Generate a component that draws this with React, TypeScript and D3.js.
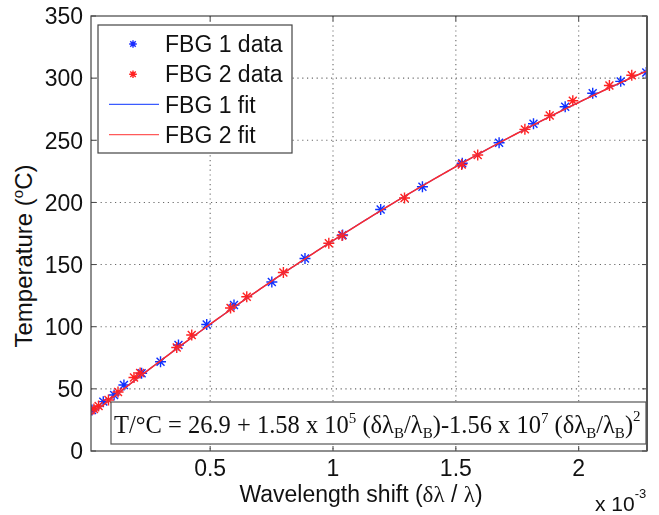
import React from "react";
import * as d3 from "d3";

// Wavelength shift (units of 1e-3) and temperature (°C) for each grating
const fbg1Shift = [0.019, 0.065, 0.109, 0.149, 0.221, 0.298, 0.371, 0.486, 0.597, 0.751, 0.886, 1.039, 1.194, 1.364, 1.526, 1.676, 1.816, 1.945, 2.057, 2.171, 2.275];
const fbg1Temp = [33.0, 39.7, 45.1, 53.1, 62.5, 71.8, 85.3, 101.8, 117.5, 136.0, 154.9, 173.8, 194.3, 212.6, 231.5, 248.0, 263.3, 277.0, 287.8, 297.4, 304.5];
const fbg2Shift = [0.027, 0.046, 0.086, 0.125, 0.19, 0.215, 0.364, 0.425, 0.583, 0.649, 0.798, 0.983, 1.037, 1.291, 1.524, 1.589, 1.781, 1.882, 1.976, 2.125, 2.216];
const fbg2Temp = [33.8, 36.2, 41.0, 47.5, 59.1, 62.8, 83.3, 93.3, 115.1, 124.1, 143.6, 167.1, 173.4, 203.6, 230.5, 238.2, 258.8, 269.9, 281.8, 294.1, 302.3];

// Quadratic calibration fit: T = c0 + c1*s + c2*s^2 (s = δλB/λB)
const fitC0 = 26.9;
const fitC1 = 1.58e5;
const fitC2 = -1.56e7;

const xTicks = [0.5, 1, 1.5, 2];
const yTicks = [0, 50, 100, 150, 200, 250, 300, 350];
const xDomain = [0.015, 2.278];
const yDomain = [0, 350];

const legendItems = [
  { label: "FBG 1 data", kind: "star", color: "#1a2cff" },
  { label: "FBG 2 data", kind: "star", color: "#ff2020" },
  { label: "FBG 1 fit", kind: "line", color: "#3b5bff" },
  { label: "FBG 2 fit", kind: "line", color: "#ff5a5a" },
];

const W = 659;
const H = 515;
const left = 91;
const right = 647;
const top = 16;
const bottom = 451;

const sans = "'Liberation Sans', Arial, Helvetica, sans-serif";
const serif = "'Liberation Serif', 'Times New Roman', serif";

function starPath(r: number) {
  const a = r * 0.72;
  return `M${-r},0L${r},0M0,${-r}L0,${r}M${-a},${-a}L${a},${a}M${-a},${a}L${a},${-a}`;
}

export default function App() {
  const x = d3.scaleLinear().domain(xDomain).range([left, right]);
  const y = d3.scaleLinear().domain(yDomain).range([bottom, top]);

  const fitXs = d3.range(0, 201).map((i) => xDomain[0] + ((xDomain[1] - xDomain[0]) * i) / 200);
  const fitLine = d3
    .line<number>()
    .x((s) => x(s))
    .y((s) => {
      const v = s * 1e-3;
      return y(fitC0 + fitC1 * v + fitC2 * v * v);
    });
  const fitPath = fitLine(fitXs) || "";

  const star = starPath(5.5);
  const smallStar = starPath(3.8);

  return (
    <svg width={W} height={H} style={{ position: "absolute", left: 0, top: 0, background: "#fff" }}>
      <defs>
        <filter id="soft" x="-20%" y="-20%" width="140%" height="140%">
          <feGaussianBlur stdDeviation="0.35" />
        </filter>
        <clipPath id="plotClip">
          <rect x={left} y={top} width={right - left} height={bottom - top} />
        </clipPath>
      </defs>
      <rect x={0} y={0} width={W} height={H} fill="#fff" />

      {/* dotted grid */}
      <g stroke="#6a6a6a" strokeWidth={1.1} strokeDasharray="1.2,3.6">
        {xTicks.map((t) => (
          <line key={"gx" + t} x1={x(t)} x2={x(t)} y1={top} y2={bottom} />
        ))}
        {yTicks
          .filter((t) => t > yDomain[0] && t < yDomain[1])
          .map((t) => (
            <line key={"gy" + t} x1={left} x2={right} y1={y(t)} y2={y(t)} />
          ))}
      </g>

      {/* ticks on all four sides */}
      <g stroke="#444" strokeWidth={1}>
        {xTicks.map((t) => (
          <g key={"tx" + t}>
            <line x1={x(t)} x2={x(t)} y1={bottom} y2={bottom - 5} />
            <line x1={x(t)} x2={x(t)} y1={top} y2={top + 5} />
          </g>
        ))}
        {yTicks.map((t) => (
          <g key={"ty" + t}>
            <line x1={left} x2={left + 5} y1={y(t)} y2={y(t)} />
            <line x1={right} x2={right - 5} y1={y(t)} y2={y(t)} />
          </g>
        ))}
      </g>

      {/* data markers */}
      <g clipPath="url(#plotClip)" filter="url(#soft)">
        {fbg1Shift.map((s, i) => (
          <path key={"a" + i} d={star} transform={`translate(${x(s)},${y(fbg1Temp[i])})`} stroke="#1030ff" strokeWidth={1.4} fill="none" />
        ))}
        {fbg2Shift.map((s, i) => (
          <path key={"b" + i} d={star} transform={`translate(${x(s)},${y(fbg2Temp[i])})`} stroke="#ff2020" strokeWidth={1.4} fill="none" />
        ))}
      </g>

      {/* fitted curves */}
      <g clipPath="url(#plotClip)">
        <path d={fitPath} fill="none" stroke="#2a4bff" strokeWidth={1.2} />
        <path d={fitPath} fill="none" stroke="#ff2a2a" strokeWidth={1.5} />
      </g>

      {/* equation box */}
      <rect x={111} y={402} width={535} height={42} fill="#fff" stroke="#555" strokeWidth={1.2} />
      <text x={114} y={433} fontFamily={serif} fontSize={24.5} fill="#111">
        <tspan>T/°C = 26.9 + 1.58 x 10</tspan>
        <tspan fontSize={15} dy={-10}>5</tspan>
        <tspan dy={10}> (δλ</tspan>
        <tspan fontSize={15} dy={5}>B</tspan>
        <tspan dy={-5}>/λ</tspan>
        <tspan fontSize={15} dy={5}>B</tspan>
        <tspan dy={-5}>)-1.56 x 10</tspan>
        <tspan fontSize={15} dy={-10}>7</tspan>
        <tspan dy={10}> (δλ</tspan>
        <tspan fontSize={15} dy={5}>B</tspan>
        <tspan dy={-5}>/λ</tspan>
        <tspan fontSize={15} dy={5}>B</tspan>
        <tspan dy={-5}>)</tspan>
        <tspan fontSize={15} dy={-12}>2</tspan>
      </text>

      {/* axes box */}
      <rect x={left} y={top} width={right - left} height={bottom - top} fill="none" stroke="#444" strokeWidth={1.2} />
      <line x1={right} x2={right} y1={top} y2={bottom} stroke="#555" strokeWidth={2} />

      {/* tick labels */}
      <g fontFamily={sans} fontSize={23} fill="#111">
        {yTicks.map((t) => (
          <text key={"ly" + t} x={83} y={y(t)} dy="0.36em" textAnchor="end">
            {t}
          </text>
        ))}
        {xTicks.map((t) => (
          <text key={"lx" + t} x={x(t)} y={476} textAnchor="middle">
            {t}
          </text>
        ))}
      </g>

      {/* axis labels */}
      <text x={361} y={502} textAnchor="middle" fontFamily={sans} fontSize={23} fill="#111">
        Wavelength shift (<tspan fontFamily={serif}>δλ</tspan> / <tspan fontFamily={serif}>λ</tspan>)
      </text>
      <text transform="translate(32,256) rotate(-90)" textAnchor="middle" fontFamily={sans} fontSize={24} fill="#111">
        Temperature (<tspan fontSize={15} dy={-9}>o</tspan>
        <tspan dy={9}>C)</tspan>
      </text>
      <text x={595} y={511} fontFamily={sans} fontSize={21} fill="#111">
        x 10<tspan fontSize={13} dy={-13}>-3</tspan>
      </text>

      {/* legend */}
      <rect x={98} y={25} width={194} height={128} fill="#fff" stroke="#444" strokeWidth={1.2} />
      {legendItems.map((it, i) => {
        const cy = 44 + i * 30.2;
        return (
          <g key={it.label}>
            {it.kind === "star" ? (
              <path d={smallStar} transform={`translate(133,${cy})`} stroke={it.color} strokeWidth={1.4} fill="none" />
            ) : (
              <line x1={109} x2={159} y1={cy} y2={cy} stroke={it.color} strokeWidth={1.3} />
            )}
            <text x={165} y={cy} dy="0.36em" fontFamily={sans} fontSize={23} fill="#111">
              {it.label}
            </text>
          </g>
        );
      })}
    </svg>
  );
}
